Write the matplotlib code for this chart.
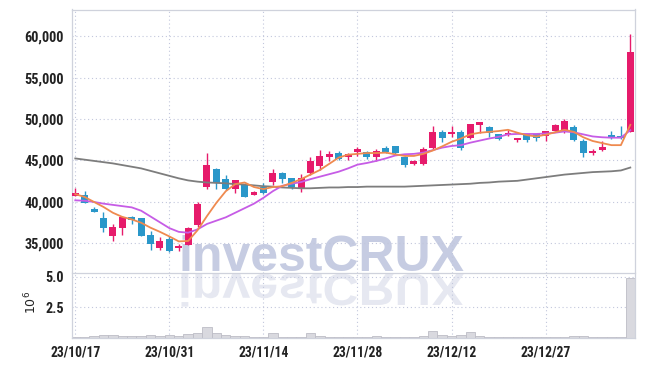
import matplotlib
matplotlib.use('Agg')
import matplotlib.pyplot as plt
from matplotlib.textpath import TextPath
from matplotlib.patches import PathPatch
from matplotlib.font_manager import FontProperties
from matplotlib.transforms import Affine2D
import numpy as np

# ---------------- data ----------------
tick_index = [0, 10, 20, 30, 40, 50]
tick_labels = ['23/10/17', '23/10/31', '23/11/14', '23/11/28', '23/12/12', '23/12/27']

open_ = [40750, 40850, 39150, 38050, 35950, 36900, 38200, 38050, 36000, 34500,
         35550, 34400, 34850, 37250, 41850, 43950, 42750, 41550, 42050, 40900,
         41750, 42450, 43550, 42850, 41600, 43450, 44350, 45450, 45900, 45400,
         46050, 46000, 45450, 46450, 46750, 45450, 44550, 44550, 46550, 48400,
         48200, 48450, 47700, 49300, 49050, 48200, 48100, 47500, 48150, 48150,
         48000, 48550, 48550, 49050, 47350, 45900, 46250, 48050, 47950, 48450]
high = [41650, 41300, 39450, 38750, 37300, 38250, 38250, 38100, 36500, 35800,
        35900, 34900, 37000, 40050, 45850, 44150, 43250, 42700, 42100, 41300,
        42250, 43950, 43600, 42950, 43400, 45450, 46250, 46150, 46150, 45900,
        46650, 46150, 46400, 46750, 46800, 45500, 45050, 46600, 49150, 48700,
        49150, 48700, 49450, 49700, 49100, 48250, 48650, 47750, 48200, 48200,
        48600, 49450, 49950, 49300, 47550, 46400, 47350, 48550, 49100, 60200]
low = [40700, 39850, 38800, 36350, 35300, 36000, 37300, 35850, 34200, 34200,
       33950, 34050, 34800, 36950, 41550, 41550, 41400, 41050, 40550, 40850,
       40950, 42050, 42300, 41550, 41250, 43250, 43850, 44950, 45100, 45100,
       45600, 45200, 44950, 45950, 45800, 44250, 44400, 44500, 46350, 47250,
       47850, 46250, 47650, 48350, 47850, 47450, 47950, 47200, 47200, 47300,
       47350, 48500, 48300, 47400, 45450, 45700, 46100, 47650, 47650, 48450]
close = [41050, 39900, 38850, 36900, 37000, 38200, 37850, 35950, 34900, 35300,
         34150, 34700, 36850, 39750, 44450, 42250, 41550, 42650, 40650, 41250,
         41050, 43550, 42750, 41850, 42850, 44950, 45550, 45800, 45150, 45800,
         46400, 45450, 46150, 46000, 45850, 44450, 44950, 46350, 48400, 47750,
         48450, 46450, 49400, 49650, 48350, 47650, 48350, 47700, 47500, 47750,
         48550, 49250, 49750, 47450, 45950, 46200, 46600, 47700, 47700, 58100]

ma_short = [40950, 40600, 40000, 39400, 38700, 38200, 37900, 37500, 36900, 36400,
            35850, 35250, 35300, 36600, 38300, 39900, 41300, 42150, 42350, 41800,
            41550, 41800, 41900, 42300, 42750, 43300, 43850, 44600, 45350, 45700,
            45800, 45900, 45900, 45950, 45750, 45550, 45550, 45800, 46200, 46700,
            47250, 47650, 48150, 48350, 48450, 48550, 48700, 48350, 48050, 47900,
            48100, 48400, 48700, 48450, 47800, 47350, 47100, 46850, 46850, 49300]
ma_mid = [40200, 40150, 40000, 39800, 39650, 39500, 39350, 38950, 38250, 37550,
          36850, 36400, 36300, 36700, 37350, 37750, 38150, 38700, 39250, 39800,
          40500, 41300, 41950, 42200, 42400, 42750, 43050, 43350, 43650, 44050,
          44500, 44700, 44950, 45250, 45600, 45750, 45800, 45950, 46250, 46550,
          46750, 46850, 47150, 47400, 47650, 47850, 48150, 48200, 48200, 48200,
          48250, 48350, 48500, 48400, 48150, 47900, 47800, 47750, 47750, 48650]
ma_long = [45250, 45100, 44950, 44800, 44650, 44450, 44250, 44050, 43750, 43450,
           43150, 42850, 42600, 42450, 42350, 42300, 42250, 42150, 42100, 42000,
           41900, 41850, 41750, 41700, 41650, 41650, 41700, 41750, 41750, 41800,
           41800, 41850, 41850, 41850, 41850, 41850, 41900, 41950, 42000, 42050,
           42100, 42150, 42200, 42300, 42350, 42450, 42500, 42550, 42700, 42850,
           43000, 43150, 43300, 43400, 43500, 43600, 43650, 43700, 43800, 44150]

volume_m = [0.05, 0.08, 0.15, 0.22, 0.22, 0.15, 0.15, 0.15, 0.22, 0.15,
            0.22, 0.15, 0.27, 0.38, 0.87, 0.38, 0.18, 0.15, 0.15, 0.08,
            0.08, 0.36, 0.08, 0.06, 0.06, 0.36, 0.15, 0.08, 0.06, 0.06,
            0.06, 0.08, 0.15, 0.06, 0.06, 0.06, 0.08, 0.15, 0.52, 0.18,
            0.15, 0.18, 0.43, 0.15, 0.08, 0.06, 0.06, 0.06, 0.06, 0.06,
            0.06, 0.06, 0.08, 0.15, 0.15, 0.03, 0.06, 0.06, 0.08, 4.9]

# ---------------- style ----------------
UP = '#e61b6b'
DOWN = '#2a97c9'
GRID = '#c2c7dc'
SPINE = '#cfd2dc'
TXT = '#222222'
tick_font = ['Roboto Condensed', 'Liberation Sans Narrow', 'DejaVu Sans']

W, H = 645, 366
fig = plt.figure(figsize=(W / 100, H / 100), dpi=100)
fig.patch.set_facecolor('white')


def rect(l, t, r, b):
    return [l / W, 1 - b / H, (r - l) / W, (b - t) / H]


ax = fig.add_axes(rect(71.5, 9.5, 635, 272.5))
axv = fig.add_axes(rect(71.5, 272.5, 635, 337.6), sharex=ax)

for a in (ax, axv):
    a.set_facecolor('none')
    for s in a.spines.values():
        s.set_color(SPINE)
        s.set_linewidth(0.9)
    a.grid(True, color=GRID, linestyle=(0, (1, 2.5)), linewidth=0.8)
    a.set_axisbelow(True)
    a.tick_params(length=0, colors=TXT)
ax.spines['bottom'].set_visible(False)

x = np.arange(len(close))
o = np.array(open_)
c = np.array(close)
colors = [UP if cc >= oo else DOWN for oo, cc in zip(o, c)]

ax.vlines(x, low, high, colors=colors, linewidth=1.0, zorder=2)
bottoms = np.minimum(o, c)
heights = np.maximum(np.abs(c - o), 120)
ax.bar(x, heights, bottom=bottoms, width=0.74, color=colors, linewidth=0, zorder=3)

ax.plot(x, ma_long, color='#7d7d7d', linewidth=1.3, zorder=4)
ax.plot(x, ma_mid, color='#c65ce6', linewidth=1.3, zorder=4)
ax.plot(x, ma_short, color='#ef8a4f', linewidth=1.3, zorder=4)

ax.set_ylim(31500, 63200)
ax.set_xlim(-0.4, 59.5)
yt = [35000, 40000, 45000, 50000, 55000, 60000]
ax.set_yticks(yt)
ax.set_yticklabels([f'{v:,}' for v in yt], family=tick_font, fontsize=10.3,
                   fontweight='bold', color=TXT)
ax.tick_params(axis='y', pad=5.5)
ax.tick_params(axis='x', labelbottom=False)

axv.bar(x, volume_m, width=1.0, color='#d9d9df', edgecolor='#bdbdc6', linewidth=0.6, zorder=2)
axv.set_ylim(0, 5.37)
axv.set_yticks([2.5, 5.0])
axv.set_yticklabels(['2.5', '5.0'], family=tick_font, fontsize=10.3,
                    fontweight='bold', color=TXT)
axv.tick_params(axis='y', pad=5.5)
axv.set_xticks(tick_index)
axv.set_xticklabels(tick_labels, family=tick_font, fontsize=9.8,
                    fontweight='bold', color=TXT)
axv.tick_params(axis='x', pad=6)

fig.text(31 / W, 1 - 302 / H, r'$10^{6}$', rotation=90, ha='center', va='center',
         fontsize=9, color=TXT)

# watermark + reflection
em_px = 50
fig.text(178 / W, 1 - 271 / H, 'investCRUX', family='Liberation Sans', fontweight='bold',
         fontsize=em_px * 72 / 100, color='#c6cce2', ha='left', va='baseline', zorder=-1)
fp = FontProperties(family='Liberation Sans', weight='bold')
tp = TextPath((0, 0), 'investCRUX', size=em_px, prop=fp)
refl = PathPatch(tp, transform=Affine2D().scale(1, -0.9).translate(178, H - 274),
                 facecolor='#e6e8f1', edgecolor='none', zorder=-1)
fig.add_artist(refl)

fig.savefig('out.png', dpi=100)
